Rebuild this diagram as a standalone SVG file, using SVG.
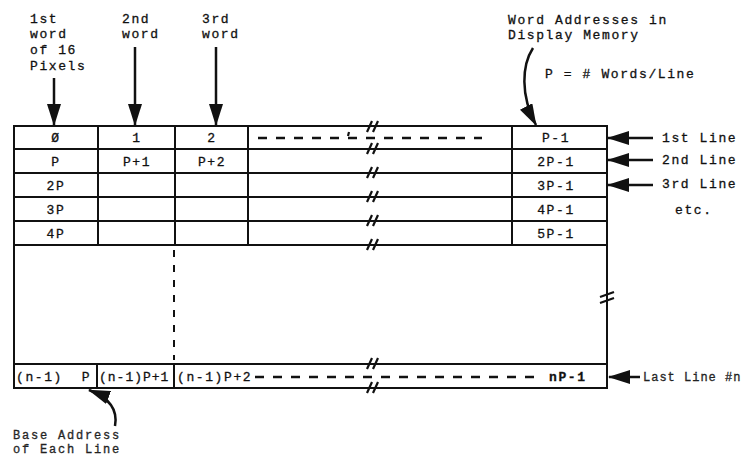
<svg xmlns="http://www.w3.org/2000/svg" width="752" height="458" viewBox="0 0 752 458">
<style>
.t{font-family:"Liberation Mono","DejaVu Sans Mono",monospace;font-size:13px;letter-spacing:1.6px;fill:#111;stroke:#111;stroke-width:0.3;white-space:pre}
.m{text-anchor:middle}
.b{font-weight:bold}
.g{stroke:#111;stroke-width:2;fill:none}
.a{stroke:#111;stroke-width:2.5;fill:none;marker-end:url(#ah)}
.d{stroke:#111;stroke-width:2.5;fill:none;stroke-dasharray:9 9}
.brk{stroke:#111;stroke-width:2.2;fill:none}
</style>
<defs>
<marker id="ah" markerUnits="userSpaceOnUse" markerWidth="22" markerHeight="14" refX="21" refY="7" orient="auto">
<path d="M0,0 L22,7 L0,14 Z" fill="#111"/>
</marker>
</defs>
<rect width="752" height="458" fill="#fff"/>

<g id="grid">
<rect class="g" x="14" y="126" width="593" height="262"/>
<line class="g" x1="14" y1="149" x2="607" y2="149"/>
<line class="g" x1="14" y1="173" x2="607" y2="173"/>
<line class="g" x1="14" y1="197" x2="607" y2="197"/>
<line class="g" x1="14" y1="221" x2="607" y2="221"/>
<line class="g" x1="14" y1="245" x2="607" y2="245"/>
<line class="g" x1="14" y1="364" x2="607" y2="364"/>
<line class="g" x1="98" y1="126" x2="98" y2="245"/>
<line class="g" x1="175" y1="126" x2="175" y2="245"/>
<line class="g" x1="248" y1="126" x2="248" y2="245"/>
<line class="g" x1="512" y1="126" x2="512" y2="245"/>
<line class="g" x1="97" y1="364" x2="97" y2="388"/>
<line class="g" x1="174" y1="364" x2="174" y2="388"/>
<line stroke="#111" stroke-width="2" stroke-dasharray="7 8" x1="174" y1="250" x2="174" y2="360"/>
<line class="d" x1="258" y1="138" x2="482" y2="138"/>
<line class="brk" x1="349" y1="132" x2="348" y2="136"/>
<line class="d" x1="255" y1="377" x2="540" y2="377"/>
</g>

<g id="breaks">
<path class="brk" d="M367,132 L372,121 M373,132 L378,121"/>
<path class="brk" d="M367,154 L372,143 M373,154 L378,143"/>
<path class="brk" d="M367,178 L372,167 M373,178 L378,167"/>
<path class="brk" d="M367,202 L372,191 M373,202 L378,191"/>
<path class="brk" d="M367,226 L372,215 M373,226 L378,215"/>
<path class="brk" d="M367,250 L372,239 M373,250 L378,239"/>
<path class="brk" d="M367,369 L372,358 M373,369 L378,358"/>
<path class="brk" d="M367,393 L372,382 M373,393 L378,382"/>
<path class="brk" d="M600,297 L614,292 M600,303 L614,298"/>
</g>

<g id="cells">
<text class="t m" x="56" y="142">Ø</text>
<text class="t m" x="137" y="142">1</text>
<text class="t m" x="212" y="142">2</text>
<text class="t m" x="556" y="142">P-1</text>
<text class="t m" x="56" y="166">P</text>
<text class="t m" x="137" y="166">P+1</text>
<text class="t m" x="212" y="166">P+2</text>
<text class="t m" x="556" y="166">2P-1</text>
<text class="t m" x="56" y="190">2P</text>
<text class="t m" x="556" y="190">3P-1</text>
<text class="t m" x="56" y="214">3P</text>
<text class="t m" x="556" y="214">4P-1</text>
<text class="t m" x="56" y="238">4P</text>
<text class="t m" x="556" y="238">5P-1</text>
<text class="t" x="16" y="381">(n-1)  P</text>
<text class="t" x="99" y="381" style="letter-spacing:1px">(n-1)P+1</text>
<text class="t" x="177" y="381">(n-1)P+2</text>
<text class="t b" x="549" y="381">nP-1</text>
</g>

<g id="labels-top">
<text class="t" x="30" y="23">1st</text>
<text class="t" x="30" y="38">word</text>
<text class="t" x="30" y="54">of 16</text>
<text class="t" x="30" y="70">Pixels</text>
<text class="t" x="122" y="23">2nd</text>
<text class="t" x="122" y="38">word</text>
<text class="t" x="202" y="23">3rd</text>
<text class="t" x="202" y="38">word</text>
<text class="t" x="508" y="24">Word Addresses in</text>
<text class="t" x="508" y="39">Display Memory</text>
<text class="t" x="545" y="78">P = # Words/Line</text>
</g>

<g id="labels-right">
<text class="t" x="662" y="142">1st Line</text>
<text class="t" x="662" y="164">2nd Line</text>
<text class="t" x="662" y="188">3rd Line</text>
<text class="t" x="675" y="214">etc.</text>
<text class="t" x="643" y="381" style="font-size:12px;letter-spacing:1px;fill:#333">Last Line #n</text>
</g>

<g id="labels-bottom">
<text class="t" x="13" y="439" style="font-size:12px;letter-spacing:1.8px;fill:#333">Base Address</text>
<text class="t" x="13" y="453" style="font-size:12px;letter-spacing:1.8px;fill:#333">of Each Line</text>
</g>

<g id="connectors">
<line class="a" x1="54" y1="78" x2="54" y2="125"/>
<line class="a" x1="135" y1="47" x2="135" y2="125"/>
<line class="a" x1="216" y1="47" x2="216" y2="125"/>
<path class="a" d="M533,48 C522,65 520,95 536,125"/>
<line class="a" x1="653" y1="138" x2="608" y2="138"/>
<line class="a" x1="653" y1="160" x2="608" y2="160"/>
<line class="a" x1="653" y1="185" x2="608" y2="185"/>
<line class="a" x1="640" y1="377" x2="609" y2="377"/>
<path class="a" d="M115,426 C118,410 110,398 89,390"/>
</g>
</svg>
